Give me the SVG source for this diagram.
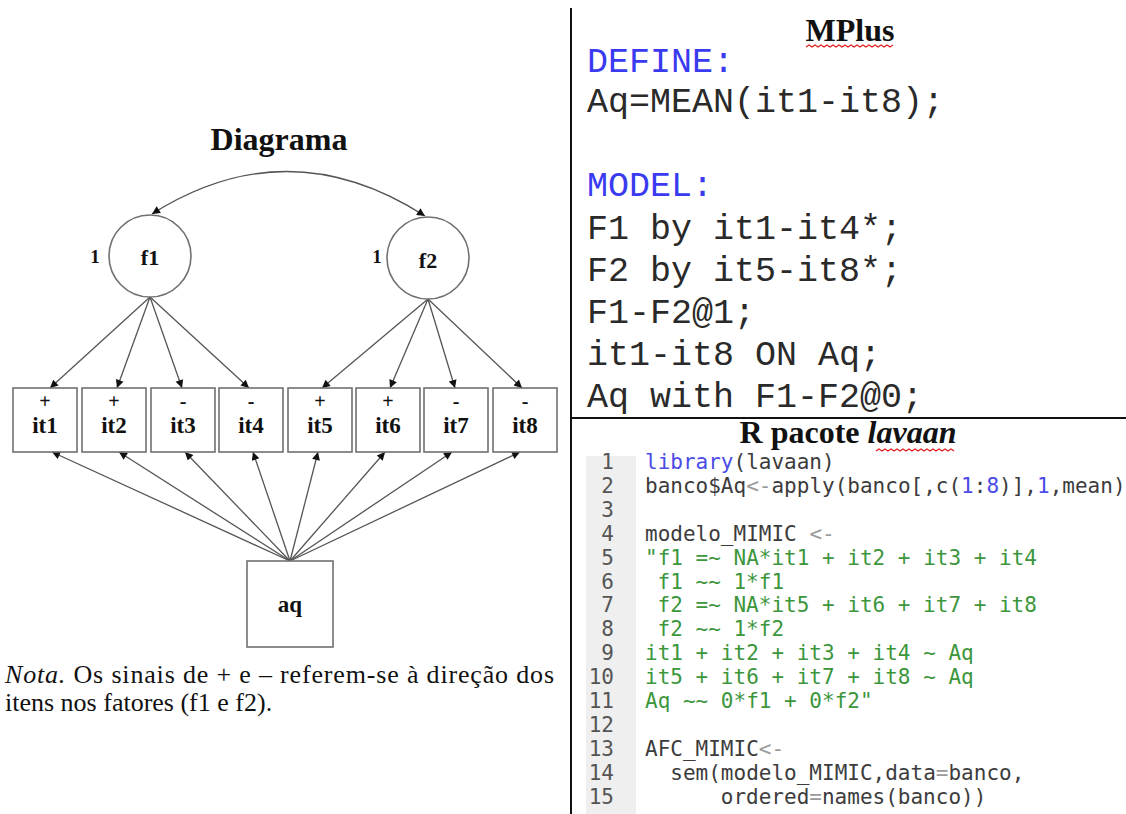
<svg xmlns="http://www.w3.org/2000/svg" width="1126" height="814" viewBox="0 0 1126 814">
<style>
.hd{font-family:"Liberation Serif","Times New Roman",serif;font-weight:bold;font-size:32px;fill:#111}
.lbl{font-family:"Liberation Serif","Times New Roman",serif;font-weight:bold;fill:#111;text-anchor:middle}
.box{fill:#fff;stroke:#707070;stroke-width:1.6}
.circ{fill:#fff;stroke:#707070;stroke-width:1.6}
.edge{fill:none;stroke:#555;stroke-width:1.3}
.note{font-family:"Liberation Serif","Times New Roman",serif;font-size:26px;fill:#111}
.mp{font-family:"Liberation Mono","Courier New",monospace;font-size:35px;fill:#2a2a2a}
.kw{fill:#3a3af0}
.rc{font-family:"DejaVu Sans Mono",monospace;font-size:21px;fill:#3c3c3c}
.ln{font-family:"DejaVu Sans Mono",monospace;font-size:21px;fill:#555;text-anchor:end}
.g{fill:#3c963c}
.b{fill:#4b4be6}
.o{fill:#9a9a9a}
.wavy{fill:none;stroke:#e02020;stroke-width:1.3}
</style>
<defs>
<marker id="ah" viewBox="0 0 10 10" refX="10" refY="5" markerWidth="11" markerHeight="8" markerUnits="userSpaceOnUse" orient="auto-start-reverse">
<path d="M0,0 L10,5 L0,10 z" fill="#111"/>
</marker>
</defs>

<rect width="1126" height="814" fill="#fff"/>

<!-- Left: diagram -->
<text class="hd" x="279" y="150" text-anchor="middle">Diagrama</text>

<g id="connectors">
<path class="edge" d="M152,214 Q288,128 425,216" marker-start="url(#ah)" marker-end="url(#ah)"/>
<line class="edge" x1="150" y1="297" x2="50" y2="388" marker-end="url(#ah)"/>
<line class="edge" x1="150" y1="297" x2="117" y2="388" marker-end="url(#ah)"/>
<line class="edge" x1="150" y1="297" x2="182" y2="388" marker-end="url(#ah)"/>
<line class="edge" x1="150" y1="297" x2="249" y2="388" marker-end="url(#ah)"/>
<line class="edge" x1="428" y1="299" x2="322" y2="388" marker-end="url(#ah)"/>
<line class="edge" x1="428" y1="299" x2="390" y2="388" marker-end="url(#ah)"/>
<line class="edge" x1="428" y1="299" x2="455" y2="388" marker-end="url(#ah)"/>
<line class="edge" x1="428" y1="299" x2="522" y2="388" marker-end="url(#ah)"/>
<line class="edge" x1="290" y1="561" x2="52" y2="452" marker-end="url(#ah)"/>
<line class="edge" x1="290" y1="561" x2="119" y2="452" marker-end="url(#ah)"/>
<line class="edge" x1="290" y1="561" x2="185" y2="452" marker-end="url(#ah)"/>
<line class="edge" x1="290" y1="561" x2="253" y2="452" marker-end="url(#ah)"/>
<line class="edge" x1="290" y1="561" x2="318" y2="452" marker-end="url(#ah)"/>
<line class="edge" x1="290" y1="561" x2="385" y2="452" marker-end="url(#ah)"/>
<line class="edge" x1="290" y1="561" x2="452" y2="452" marker-end="url(#ah)"/>
<line class="edge" x1="290" y1="561" x2="520" y2="452" marker-end="url(#ah)"/>
</g>

<g id="f1">
<circle class="circ" cx="150" cy="256" r="41"/>
<text class="lbl" x="150" y="265" font-size="22">f1</text>
<text class="lbl" x="95" y="263" font-size="19">1</text>
</g>
<g id="f2">
<circle class="circ" cx="428" cy="258" r="41"/>
<text class="lbl" x="428" y="268" font-size="22">f2</text>
<text class="lbl" x="377" y="263" font-size="19">1</text>
</g>

<g id="it1"><rect class="box" x="13" y="388" width="64" height="64"/><text class="lbl" x="45" y="408" font-size="20">+</text><text class="lbl" x="45" y="433" font-size="23">it1</text></g>
<g id="it2"><rect class="box" x="82" y="388" width="64" height="64"/><text class="lbl" x="114" y="408" font-size="20">+</text><text class="lbl" x="114" y="433" font-size="23">it2</text></g>
<g id="it3"><rect class="box" x="151" y="388" width="64" height="64"/><text class="lbl" x="183" y="408" font-size="20">-</text><text class="lbl" x="183" y="433" font-size="23">it3</text></g>
<g id="it4"><rect class="box" x="219" y="388" width="64" height="64"/><text class="lbl" x="251" y="408" font-size="20">-</text><text class="lbl" x="251" y="433" font-size="23">it4</text></g>
<g id="it5"><rect class="box" x="288" y="388" width="64" height="64"/><text class="lbl" x="320" y="408" font-size="20">+</text><text class="lbl" x="320" y="433" font-size="23">it5</text></g>
<g id="it6"><rect class="box" x="356" y="388" width="64" height="64"/><text class="lbl" x="388" y="408" font-size="20">+</text><text class="lbl" x="388" y="433" font-size="23">it6</text></g>
<g id="it7"><rect class="box" x="424" y="388" width="64" height="64"/><text class="lbl" x="456" y="408" font-size="20">-</text><text class="lbl" x="456" y="433" font-size="23">it7</text></g>
<g id="it8"><rect class="box" x="493" y="388" width="64" height="64"/><text class="lbl" x="525" y="408" font-size="20">-</text><text class="lbl" x="525" y="433" font-size="23">it8</text></g>

<g id="aq"><rect class="box" x="247" y="561" width="86" height="86"/><text class="lbl" x="290" y="612" font-size="23">aq</text></g>

<text class="note" x="5" y="683" textLength="549" lengthAdjust="spacing"><tspan font-style="italic">Nota.</tspan> Os sinais de + e – referem-se à direção dos</text>
<text class="note" x="5" y="711">itens nos fatores (f1 e f2).</text>

<!-- Right: panels -->
<line x1="571" y1="8" x2="571" y2="814" stroke="#111" stroke-width="2"/>
<line x1="571" y1="418" x2="1126" y2="418" stroke="#111" stroke-width="2"/>

<text class="hd" x="850" y="41" text-anchor="middle">MPlus</text>
<path class="wavy" d="M806,47 l3,-2 l3,2 l3,-2 l3,2 l3,-2 l3,2 l3,-2 l3,2 l3,-2 l3,2 l3,-2 l3,2 l3,-2 l3,2 l3,-2 l3,2 l3,-2 l3,2 l3,-2 l3,2 l3,-2 l3,2 l3,-2 l3,2 l3,-2 l3,2 l3,-2 l3,2 l3,-2"/>

<text class="mp kw" x="587" y="72">DEFINE:</text>
<text class="mp" x="587" y="112">Aq=MEAN(it1-it8);</text>
<text class="mp kw" x="587" y="196">MODEL:</text>
<text class="mp" x="587" y="239">F1 by it1-it4*;</text>
<text class="mp" x="587" y="281">F2 by it5-it8*;</text>
<text class="mp" x="587" y="323">F1-F2@1;</text>
<text class="mp" x="587" y="365">it1-it8 ON Aq;</text>
<text class="mp" x="587" y="407">Aq with F1-F2@0;</text>

<text class="hd" x="848" y="443" text-anchor="middle">R pacote <tspan font-style="italic">lavaan</tspan></text>
<path class="wavy" d="M876,451 l3,-2 l3,2 l3,-2 l3,2 l3,-2 l3,2 l3,-2 l3,2 l3,-2 l3,2 l3,-2 l3,2 l3,-2 l3,2 l3,-2 l3,2 l3,-2 l3,2 l3,-2 l3,2 l3,-2 l3,2 l3,-2 l3,2 l3,-2 l3,2"/>

<rect x="586" y="456" width="50" height="358" fill="#efefef"/>
<g class="ln">
<text x="614" y="469">1</text>
<text x="614" y="493">2</text>
<text x="614" y="517">3</text>
<text x="614" y="541">4</text>
<text x="614" y="565">5</text>
<text x="614" y="589">6</text>
<text x="614" y="612">7</text>
<text x="614" y="636">8</text>
<text x="614" y="660">9</text>
<text x="614" y="684">10</text>
<text x="614" y="708">11</text>
<text x="614" y="732">12</text>
<text x="614" y="756">13</text>
<text x="614" y="780">14</text>
<text x="614" y="804">15</text>
</g>
<g class="rc">
<text x="645" y="469"><tspan class="b">library</tspan>(lavaan)</text>
<text x="645" y="493">banco$Aq<tspan class="o">&lt;-</tspan>apply(banco[,c(<tspan class="b">1</tspan>:<tspan class="b">8</tspan>)],<tspan class="b">1</tspan>,mean)</text>
<text x="645" y="541">modelo_MIMIC <tspan class="o">&lt;-</tspan></text>
<text class="g" x="645" y="565">"f1 =~ NA*it1 + it2 + it3 + it4</text>
<text class="g" x="657.6" y="589">f1 ~~ 1*f1</text>
<text class="g" x="657.6" y="612">f2 =~ NA*it5 + it6 + it7 + it8</text>
<text class="g" x="657.6" y="636">f2 ~~ 1*f2</text>
<text class="g" x="645" y="660">it1 + it2 + it3 + it4 ~ Aq</text>
<text class="g" x="645" y="684">it5 + it6 + it7 + it8 ~ Aq</text>
<text class="g" x="645" y="708">Aq ~~ 0*f1 + 0*f2"</text>
<text x="645" y="756">AFC_MIMIC<tspan class="o">&lt;-</tspan></text>
<text x="670.3" y="780">sem(modelo_MIMIC,data<tspan class="o">=</tspan>banco,</text>
<text x="720.8" y="804">ordered<tspan class="o">=</tspan>names(banco))</text>
</g>
</svg>
